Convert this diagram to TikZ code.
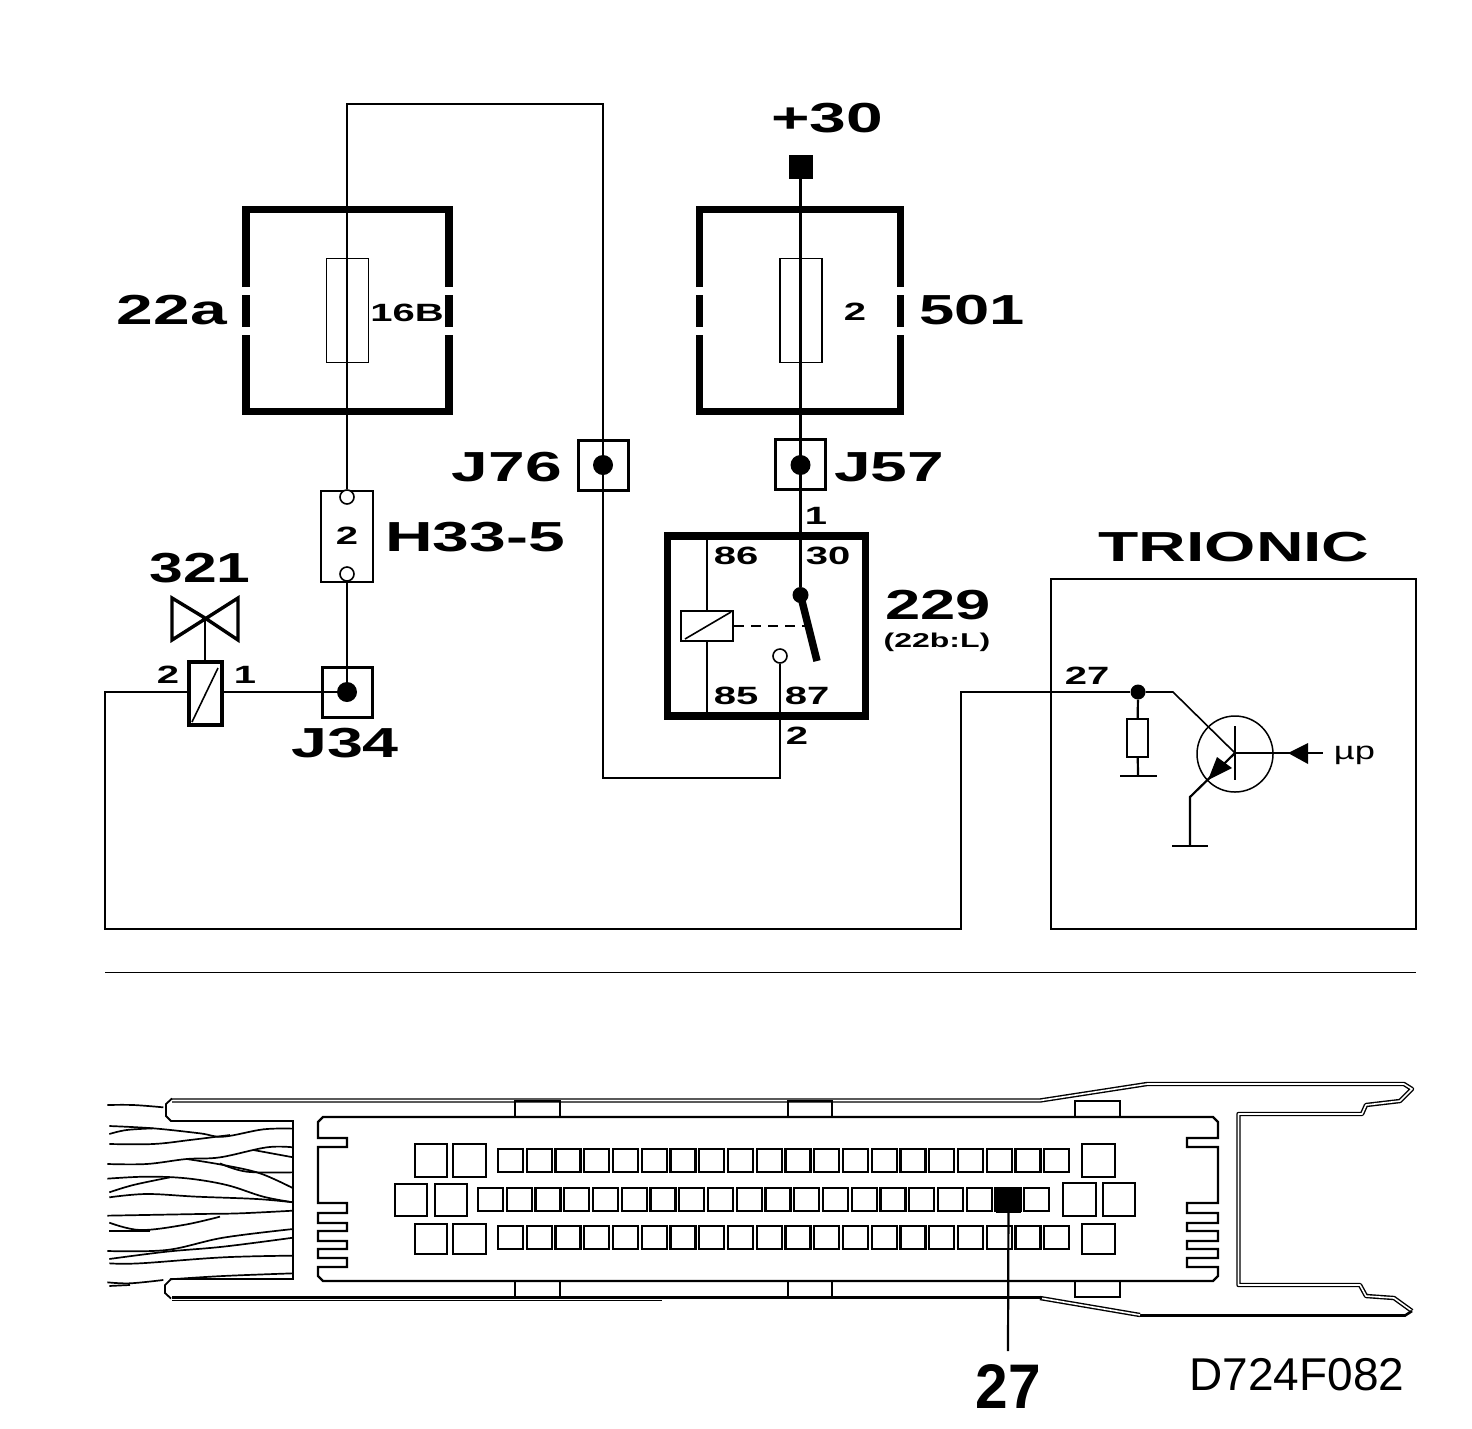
\documentclass[tikz,border=0pt]{standalone}
\usepackage{fontspec}
\setmainfont{Liberation Sans}
\tikzset{
  bigtxt/.style={inner sep=0pt,xscale=1.57,font=\fontsize{42}{42}\selectfont\bfseries},
  midtxt/.style={inner sep=0pt,xscale=1.6,font=\fontsize{25}{25}\selectfont\bfseries},
  wire/.style={line width=1.6pt},
  heavywire/.style={line width=2.2pt},
  thickbox/.style={line width=7.5pt},
  fuse/.style={draw,line width=1.5pt,inner sep=0pt,minimum width=42pt,minimum height=104pt},
  jbox/.style={draw,line width=3pt,inner sep=0pt,minimum size=50pt},
  jdot/.style={circle,fill,inner sep=0pt,minimum size=20pt},
  hole/.style={circle,draw,fill=white,line width=1.6pt,inner sep=0pt,minimum size=14pt},
  pin/.style={line width=2.1pt},
  shell/.style={line width=1.4pt,double,double distance=1.6pt},
  body/.style={line width=2.4pt,line join=miter},
  strand/.style={line width=1.7pt}
}
\begin{document}
\begin{tikzpicture}[x=1pt,y=-1pt]
  \useasboundingbox (0,0) rectangle (1472,1428);
  % fuse boxes
  \foreach \xa/\xb in {246/449,699.5/900.5}{
    \draw[thickbox] (\xa,287) -- (\xa,209.5) -- (\xb,209.5) -- (\xb,287);
    \draw[thickbox] (\xa,335) -- (\xa,411.5) -- (\xb,411.5) -- (\xb,335);
    \draw[thickbox] (\xa,295) -- (\xa,327);
    \draw[thickbox] (\xb,295) -- (\xb,327);
  }
  \node[fuse] (fuseA) at (347.5,310.5) {};
  \node[fuse] (fuseB) at (801,310.5) {};
  \node[midtxt] (lblB) at (407,313) {16B};
  \node[midtxt] (lblF) at (855,312) {2};
  \node[bigtxt] (lbl22a) at (172,310) {22a};
  \node[bigtxt,xscale=.96] (lbl501) at (972,310) {501};
  % supply side
  \node[bigtxt] (lbl30) at (827,118) {+30};
  \node[fill,inner sep=0pt,minimum size=24pt] (plus) at (800.5,167) {};
  \node[jbox] (J57) at (800.5,464.5) {};
  \node[jdot] (J57d) at (800.5,465) {};
  \node[bigtxt] (lblJ57) at (889,467) {J57};
  \node[jbox] (J76) at (603,465) {};
  \node[jdot] (J76d) at (603,465) {};
  \node[bigtxt] (lblJ76) at (507,467) {J76};
  \node[midtxt] (lblone) at (816,516) {1};
  % relay
  \draw[thickbox] (667.5,536) rectangle (865.5,716);
  \node[draw,line width=2pt,inner sep=0pt,minimum width=52pt,minimum height=30pt] (coil) at (707,626) {};
  \coordinate (coilT) at (707,536);
  \coordinate (coilB) at (707,716);
  \draw[wire] (coilT) -- (coil);
  \draw[wire] (coil) -- (coilB);
  \draw[wire] (685,639) -- (731,612);
  \node[circle,fill,inner sep=0pt,minimum size=16pt] (pivot) at (800.5,595) {};
  \coordinate (bladeEnd) at (817,661);
  \draw[line width=7.5pt] (pivot.center) -- (bladeEnd);
  \draw[wire,dash pattern=on 10pt off 7pt] (coil.east) -- (806,626);
  \node[hole] (contact) at (780,656) {};
  \node[midtxt] (t86) at (736,556) {86};
  \node[midtxt] (t30) at (828,556) {30};
  \node[midtxt] (t85) at (736,696) {85};
  \node[midtxt] (t87) at (807,696) {87};
  \node[midtxt] (ttwo) at (797,736) {2};
  \node[bigtxt,xscale=.96] (lbl229) at (938,605) {229};
  \node[inner sep=0pt,xscale=1.6,font=\fontsize{20}{20}\selectfont\bfseries] (lbl22b) at (937,642) {(22b:L)};
  \draw[heavywire] (plus) -- (pivot);
  % long wire over 22a
  \node[draw,wire,inner sep=0pt,minimum width=52pt,minimum height=91pt] (H33) at (347,536.5) {};
  \node[hole] (H33a) at (347,497) {};
  \node[hole] (H33b) at (347,574) {};
  \node[midtxt] (lblHtwo) at (347,536) {2};
  \node[bigtxt] (lblH) at (475,537) {H33-5};
  \coordinate (topL) at (347,104);
  \coordinate (topR) at (603,104);
  \coordinate (botR) at (603,778);
  \coordinate (botC) at (780,778);
  \draw[wire] (contact) -- (botC) -- (botR) -- (topR) -- (topL) -- (H33a);
  % valve side
  \node[jbox] (J34) at (347,692) {};
  \node[jdot] (J34d) at (347,692) {};
  \draw[wire] (H33b) -- (J34d);
  \node[bigtxt,xscale=.98] (lblJ34) at (345,743) {J34};
  \node[draw,line width=4pt,inner sep=0pt,minimum width=33pt,minimum height=63pt] (sol) at (205,693.5) {};
  \draw[wire] (192,722) -- (218,668);
  \coordinate (wa) at (105,692);
  \draw[wire] (sol.east |- J34d) -- (J34d);
  \coordinate (valve) at (205,618);
  \draw[line width=3.4pt,line join=miter] (valve) -- (172,598) -- (172,640) -- (238,598) -- (238,640) -- cycle;
  \draw[wire] (valve) -- (sol);
  \node[bigtxt,xscale=.92] (lbl321) at (200,568) {321};
  \node[midtxt] (ptwo) at (168,675) {2};
  \node[midtxt] (pone) at (245,675) {1};
  % trionic
  \node[bigtxt] (lblT) at (1234,547) {TRIONIC};
  \draw[line width=2pt] (1051,579) rectangle (1416,929);
  \node[midtxt] (t27) at (1087,676) {27};
  \node[circle,fill,inner sep=0pt,minimum size=15pt] (node27) at (1138,692) {};
  \coordinate (wb) at (105,929);
  \coordinate (wc) at (961,929);
  \coordinate (wd) at (961,692);
  \draw[wire] (sol.west |- wa) -- (wa) -- (wb) -- (wc) -- (wd) -- (node27);
  \node[draw,line width=1.8pt,inner sep=0pt,minimum width=21pt,minimum height=38pt] (res) at (1137.5,738) {};
  \coordinate (gnda) at (1138,776);
  \draw[heavywire] (node27) -- (res);
  \draw[heavywire] (res) -- (gnda);
  \draw[heavywire] (1120,776) -- (1157,776);
  \node[circle,draw,line width=1.5pt,inner sep=0pt,minimum size=76pt] (tran) at (1235,754) {};
  \coordinate (base) at (1235,753);
  \draw[wire] (node27) -- (1173,692) -- (base);
  \draw[heavywire] (1235,726) -- (1235,780);
  \coordinate (ubase) at (1323,753);
  \draw[heavywire] (base) -- (ubase);
  \fill (1288,753) -- (1308,743) -- (1308,764) -- cycle;
  \node[inner sep=0pt,xscale=1.45,font=\fontsize{25}{25}\selectfont] (lblup) at (1354.5,755) {µp};
  \coordinate (emit) at (1190,797);
  \coordinate (gndb) at (1190,846);
  \draw[heavywire] (base) -- (emit) -- (gndb);
  \draw[heavywire] (1172,846) -- (1208,846);
  \fill (1208,780) -- (1217,757) -- (1232,768) -- cycle;
  % rule
  \draw[line width=1pt] (105,972) -- (1416,972);
  % connector shell
  \draw[shell,line join=round] (172,1100.5) -- (1040,1100.5) -- (1147,1084) -- (1404,1084) -- (1412,1089) -- (1400,1101) -- (1366,1105) -- (1362,1114) -- (1238.5,1114) -- (1238.5,1285) -- (1360,1285) -- (1366,1296) -- (1394,1298) -- (1412,1311);
  \draw[line width=2.6pt] (1412,1311) -- (1405,1315.5) -- (1140,1315.5);
  \draw[shell] (1140,1315) -- (1040,1298);
  \draw[line width=3pt] (172,1297.5) -- (1042,1297.5);
  \draw[line width=1.6pt] (172,1300.5) -- (662,1300.5);
  \draw[line width=1.8pt] (172,1098.5) -- (166,1104) -- (166,1116) -- (171,1121) -- (293,1121) -- (293,1279) -- (171,1279) -- (165,1285) -- (165,1293) -- (171,1298.5);
  % panel
  \draw[body] (323,1117) -- (1213,1117) -- (1218,1122)
    -- (1218,1138) -- (1187,1138) -- (1187,1147) -- (1218,1147)
    -- (1218,1203) -- (1187,1203) -- (1187,1213) -- (1218,1213)
    -- (1218,1223) -- (1187,1223) -- (1187,1231) -- (1218,1231)
    -- (1218,1241) -- (1187,1241) -- (1187,1249) -- (1218,1249)
    -- (1218,1258) -- (1187,1258) -- (1187,1267) -- (1218,1267)
    -- (1218,1276) -- (1213,1281) -- (323,1281) -- (318,1276)
    -- (318,1267) -- (347,1267) -- (347,1258) -- (318,1258)
    -- (318,1249) -- (347,1249) -- (347,1241) -- (318,1241)
    -- (318,1231) -- (347,1231) -- (347,1223) -- (318,1223)
    -- (318,1213) -- (347,1213) -- (347,1203) -- (318,1203)
    -- (318,1147) -- (347,1147) -- (347,1138) -- (318,1138)
    -- (318,1122) -- cycle;
  \foreach \xa/\xb in {515/560,788/832,1075/1120}{
    \draw[body] (\xa,1117) -- (\xa,1101) -- (\xb,1101) -- (\xb,1117);
    \draw[body] (\xa,1281) -- (\xa,1297) -- (\xb,1297) -- (\xb,1281);
  }
  % pins
  \foreach \n in {0,...,19}{
    \pgfmathsetmacro\xp{498+28.75*\n}
    \draw[pin] (\xp,1149) rectangle ++(25,23);
    \draw[pin] (\xp,1226) rectangle ++(25,23);
    \pgfmathsetmacro\xq{478+28.75*\n}
    \draw[pin] (\xq,1188) rectangle ++(25,23);
  }
  \foreach \xa/\xb/\ya/\yb in {415/447/1144/1177,453/486/1144/1177,1082/1115/1144/1177,
    395/427/1184/1216,435/467/1184/1216,1063/1096/1183/1216,1103/1135/1183/1216,
    415/447/1224/1254,453/486/1224/1254,1082/1115/1224/1254}{
    \draw[pin] (\xa,\ya) rectangle (\xb,\yb);
  }
  \node[fill,inner sep=0pt,minimum width=25pt,minimum height=26pt] (pin27) at (1008.5,1199.5) {};
  \node[inner sep=0pt,xscale=.93,font=\fontsize{63}{63}\selectfont\bfseries] (lbl27) at (1008,1386) {27};
  \coordinate (pinEnd) at (1008,1351);
  \draw[heavywire] (pin27) -- (pinEnd);
  \node[inner sep=0pt,font=\fontsize{46}{46}\selectfont] (code) at (1297,1375) {D724F082};
  % harness
  \begin{scope}[x=.3333pt,y=-.3333pt,shift={(90pt,-1070pt)}]
    \foreach \pts in {
      {(52,105) (130,105) (220,112)},
      {(58,168) (190,175) (330,190) (400,200) (520,178) (610,176)},
      {(58,192) (110,180) (190,175)},
      {(58,222) (190,222) (300,210) (420,195)},
      {(52,282) (170,282) (290,267) (390,262) (530,232) (610,232)},
      {(290,267) (400,285) (510,310) (610,355)},
      {(490,240) (610,262)},
      {(390,280) (470,305) (610,307)},
      {(52,326) (170,320) (290,325) (410,345) (520,380) (610,397)},
      {(58,367) (130,345) (240,322)},
      {(58,382) (170,372) (320,380) (500,387) (610,397)},
      {(52,437) (330,432) (450,430) (610,422)},
      {(58,458) (150,480) (280,465) (390,440)},
      {(58,482) (180,482)},
      {(52,543) (230,540) (400,503) (610,477)},
      {(58,567) (230,545) (400,530) (610,503)},
      {(58,580) (150,580) (400,562) (610,557)},
      {(240,628) (400,618) (610,610)},
      {(52,637) (120,640) (220,630)},
      {(58,648) (120,645)}}{
      \draw[strand] plot[smooth,tension=.6] coordinates \pts;
    }
  \end{scope}
\end{tikzpicture}
\end{document}
